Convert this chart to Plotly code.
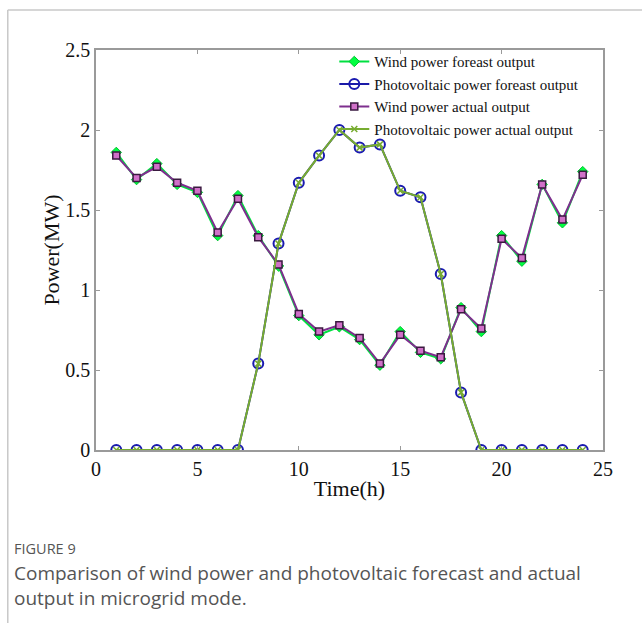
import plotly.graph_objects as go

hours = list(range(1, 25))
wind_forecast = [1.86, 1.69, 1.79, 1.66, 1.61, 1.34, 1.59, 1.34, 1.15, 0.84, 0.72, 0.77, 0.69, 0.53,
                 0.74, 0.61, 0.57, 0.89, 0.74, 1.34, 1.18, 1.66, 1.42, 1.74]
wind_actual = [1.84, 1.70, 1.77, 1.67, 1.62, 1.36, 1.57, 1.33, 1.16, 0.85, 0.74, 0.78, 0.70, 0.54,
               0.72, 0.62, 0.58, 0.88, 0.76, 1.32, 1.20, 1.66, 1.44, 1.72]
pv_forecast = [0, 0, 0, 0, 0, 0, 0, 0.54, 1.29, 1.67, 1.84, 2.00, 1.89, 1.91,
               1.62, 1.58, 1.10, 0.36, 0, 0, 0, 0, 0, 0]
pv_actual = [0, 0, 0, 0, 0, 0, 0, 0.54, 1.29, 1.67, 1.84, 2.00, 1.89, 1.91,
             1.62, 1.58, 1.10, 0.36, 0, 0, 0, 0, 0, 0]

x_ticks = [0, 5, 10, 15, 20, 25]
y_ticks = [0, 0.5, 1, 1.5, 2, 2.5]
y_tick_text = ["0", "0.5", "1", "1.5", "2", "2.5"]

serif = "Liberation Serif, Times New Roman, serif"

fig = go.Figure()
fig.add_trace(go.Scatter(
    x=hours, y=wind_forecast, name="Wind power foreast output", mode="lines+markers",
    line=dict(color="#00e040", width=2),
    marker=dict(symbol="diamond", size=8, color="#00ff40", line=dict(color="#00c030", width=1))))
fig.add_trace(go.Scatter(
    x=hours, y=pv_forecast, name="Photovoltaic power foreast output", mode="lines+markers",
    line=dict(color="#1a1aa8", width=2),
    marker=dict(symbol="circle-open", size=10, color="#1a1ab0", line=dict(width=2))))
fig.add_trace(go.Scatter(
    x=hours, y=wind_actual, name="Wind power actual output", mode="lines+markers",
    line=dict(color="#7e2f8e", width=2),
    marker=dict(symbol="square", size=7, color="#d070c8", line=dict(color="#3a1a40", width=1.5))))
fig.add_trace(go.Scatter(
    x=hours, y=pv_actual, name="Photovoltaic power actual output", mode="lines+markers",
    line=dict(color="#77ac30", width=2),
    marker=dict(symbol="x-thin", size=6, color="#77ac30", line=dict(color="#77ac30", width=1.5))))

axis_common = dict(
    showgrid=False, zeroline=False, showline=True, linecolor="#9a9a9a", linewidth=1.5,
    mirror="ticks", ticks="inside", ticklen=4, tickcolor="#9a9a9a",
    tickfont=dict(family=serif, size=20, color="#111"),
)

fig.update_xaxes(range=[0, 25], tickvals=x_ticks,
                 title=dict(text="Time(h)", font=dict(family=serif, size=22, color="#111"), standoff=2), **axis_common)
fig.update_yaxes(range=[0, 2.5], tickvals=y_ticks, ticktext=y_tick_text,
                 title=dict(text="Power(MW)", font=dict(family=serif, size=22, color="#111"), standoff=0), **axis_common)

fig.update_layout(
    width=642, height=623,
    margin=dict(l=96, r=39, t=50, b=173),
    paper_bgcolor="white", plot_bgcolor="white",
    showlegend=True,
    legend=dict(x=0.47, y=1.012, xanchor="left", yanchor="top",
                bgcolor="rgba(255,255,255,0)", borderwidth=0,
                font=dict(family=serif, size=15, color="#111"),
                tracegroupgap=0, itemwidth=30),
    shapes=[
        dict(type="line", xref="paper", yref="paper", x0=-0.174, x1=1.08, y0=1.1, y1=1.1,
             line=dict(color="#c8c8c8", width=1.5)),
        dict(type="line", xref="paper", yref="paper", x0=-0.174, x1=-0.174, y0=1.1, y1=-0.44,
             line=dict(color="#c8c8c8", width=1.5)),
    ],
    annotations=[
        dict(text="FIGURE 9", xref="paper", yref="paper", x=-0.165, y=-0.245, xanchor="left", yanchor="middle",
             showarrow=False, font=dict(family="Open Sans, sans-serif", size=14.5, color="#555")),
        dict(text="Comparison of wind power and photovoltaic forecast and actual<br>output in microgrid mode.",
             xref="paper", yref="paper", x=-0.165, y=-0.27, xanchor="left", yanchor="top", align="left",
             showarrow=False, font=dict(family="Open Sans, sans-serif", size=19, color="#555")),
    ],
)

fig.write_html("out.html")
